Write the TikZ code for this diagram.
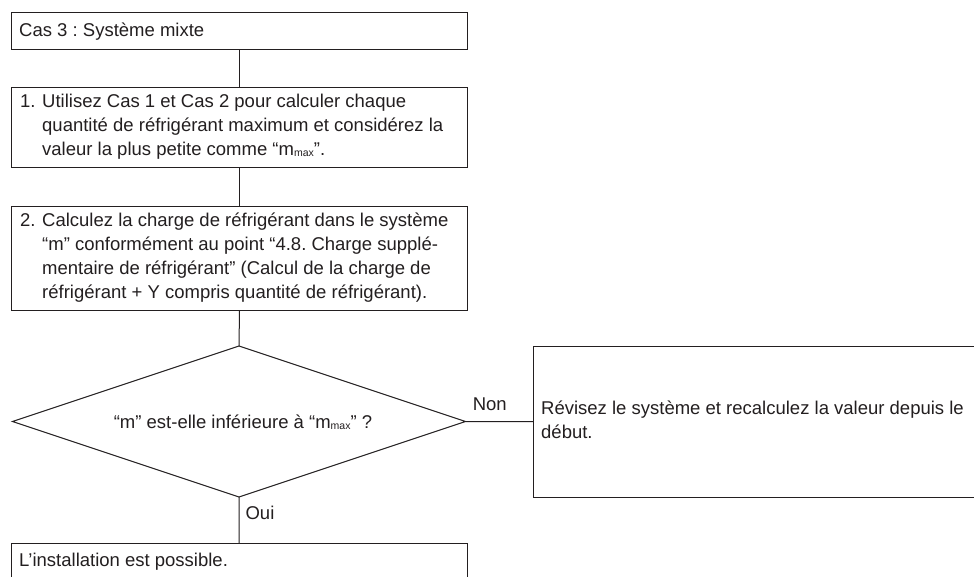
\documentclass[tikz,border=0pt]{standalone}
\usepackage{fontspec}
\setmainfont{Liberation Sans}
\usetikzlibrary{shapes.geometric}
\definecolor{ink}{HTML}{231F20}
\frenchspacing
\newcommand{\mmax}{m\raisebox{-1pt}{\fontsize{10.5}{10.5}\selectfont max}}
\begin{document}
\begin{tikzpicture}[x=1pt,y=-1pt,
  every node/.style={text=ink, font=\fontsize{18.5}{24}\selectfont},
  boxnode/.style={draw=ink, line width=1pt, rectangle, inner sep=0pt, anchor=north west},
  linknode/.style={draw=none, rectangle, inner sep=0pt, anchor=north west},
  txt/.style={anchor=base west, inner sep=0pt, align=left},
  conn/.style={draw=ink, line width=1pt}]
\useasboundingbox (0,0) rectangle (974,576);
\fill[white] (0,0) rectangle (974,576);
% boxes
\node[boxnode, minimum width=456pt, minimum height=37pt] (b0) at (11,12) {};
\node[boxnode, minimum width=456pt, minimum height=80pt] (b1) at (11,87) {};
\node[boxnode, minimum width=456pt, minimum height=104pt] (b2) at (11,206) {};
\node[diamond, draw=ink, line width=1pt, inner sep=0pt, outer sep=0pt, minimum width=453pt, minimum height=151pt] (d) at (239,421.5) {};
\node[linknode, minimum width=441pt, minimum height=151pt] (rb) at (533,346) {};
\draw[conn] (rb.north east) -- (rb.north west) -- (rb.south west) -- (rb.south east);
\node[linknode, minimum width=456pt, minimum height=34pt] (b3) at (11,543) {};
\draw[conn] (b3.south west) -- (b3.north west) -- (b3.north east) -- (b3.south east);
% texts
\node[txt] (t0) at (19,36) {Cas 3 : Système mixte};
\node[txt] (t1) at (20,107) {\begin{tabular}[t]{@{}p{22pt}@{}l@{}}
1.& Utilisez Cas 1 et Cas 2 pour calculer chaque\\
 & quantité de réfrigérant maximum et considérez la\\
 & valeur la plus petite comme “\mmax”.
\end{tabular}};
\node[txt] (t2) at (20,226) {\begin{tabular}[t]{@{}p{22pt}@{}l@{}}
2.& Calculez la charge de réfrigérant dans le système\\
 & “m” conformément au point “4.8. Charge supplé-\\
 & mentaire de réfrigérant” (Calcul de la charge de\\
 & réfrigérant + Y compris quantité de réfrigérant).
\end{tabular}};
\node[anchor=base, inner sep=0pt] (td) at (243,428) {“m” est-elle inférieure à “\mmax” ?};
\node[txt] (tr) at (541,414) {\begin{tabular}[t]{@{}l@{}}
Révisez le système et recalculez la valeur depuis le\\
début.
\end{tabular}};
\node[txt] (t3) at (19,566) {L’installation est possible.};
% connectors
\draw[conn] (b0.south) -- (b1.north);
\draw[conn] (b1.south) -- (b2.north);
\draw[conn] (b2.south) -- (d.north);
\draw[conn] (d.east) -- node[pos=0.36, above=10pt, inner sep=0pt] (lnon) {Non} (rb.west);
\draw[conn] (d.south) -- node[pos=0.35, right=6pt, inner sep=0pt] (loui) {Oui} (b3.north);
\end{tikzpicture}
\end{document}
